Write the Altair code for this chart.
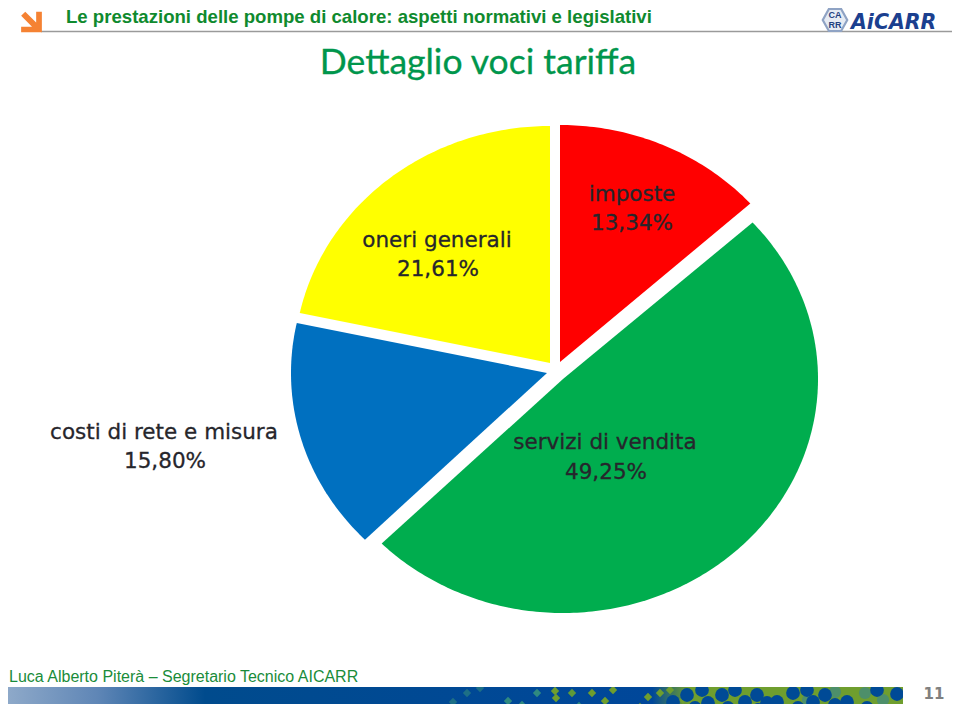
import math
import altair as alt
import pandas as pd

# ---- chart values ----
categories = ["imposte", "servizi di vendita", "costi di rete e misura", "oneri generali"]
shares = [13.34, 49.25, 15.80, 21.61]
share_labels = ["13,34%", "49,25%", "15,80%", "21,61%"]
colors = ["#ff0000", "#00ad4e", "#0070c0", "#ffff00"]

heading = "Le prestazioni delle pompe di calore: aspetti normativi e legislativi"
title = "Dettaglio voci tariffa"
footer = "Luca Alberto Piterà – Segretario Tecnico AICARR"
page_number = "11"

# Pixel frame of the picture (the page margin takes 8px on each side)
X = alt.Scale(domain=[8, 952], range=[0, 944])
Y = alt.Scale(domain=[8, 704], range=[0, 696])
ax = dict(axis=None, scale=X)
ay = dict(axis=None, scale=Y)

# exploded centre and elliptical radii of each wedge of the (stretched) pie
geometry = {"imposte": (560, 362, 256, 237), "servizi di vendita": (563, 379, 255, 234),
            "costi di rete e misura": (547, 373, 256, 237), "oneri generali": (550, 363, 256, 237)}


def wedge(start, end, cx, cy, rx, ry):
    n = max(4, int((end - start) * 1.2))
    pts = [[cx - 8, cy - 8]]
    for i in range(n + 1):
        a = math.radians(start + (end - start) * i / n)
        pts.append([cx - 8 + rx * math.sin(a), cy - 8 - ry * math.cos(a)])
    pts.append([cx - 8, cy - 8])
    return pts


features, running = [], 0.0
for cat, val in zip(categories, shares):
    sweep = val / sum(shares) * 360
    features.append({"type": "Feature",
                     "properties": {"category": cat},
                     "geometry": {"type": "Polygon",
                                  "coordinates": [wedge(running, running + sweep, *geometry[cat])]}})
    running += sweep

pie = alt.Chart(alt.InlineData(values={"type": "FeatureCollection", "features": features},
                               format=alt.DataFormat(type="json", property="features"))
                ).mark_geoshape(stroke=None).encode(
    color=alt.Color("properties.category:N", legend=None,
                    scale=alt.Scale(domain=categories, range=colors))
).project(type="identity", scale=1, translate=[0, 0])

# ---- slice labels ----
name_pos = {"imposte": (632, 195), "servizi di vendita": (605, 443),
            "costi di rete e misura": (164, 433), "oneri generali": (437, 241)}
value_pos = {"imposte": (632, 224), "servizi di vendita": (606, 473),
             "costi di rete e misura": (165, 462), "oneri generali": (438, 270)}
label_df = pd.DataFrame(
    [{"t": c, "x": name_pos[c][0], "y": name_pos[c][1]} for c in categories] +
    [{"t": l, "x": value_pos[c][0], "y": value_pos[c][1]} for c, l in zip(categories, share_labels)])
labels = alt.Chart(label_df).mark_text(font="DejaVu Sans", fontSize=21.5, stroke="#26262c",
                                       strokeWidth=0.3, color="#26262c", baseline="middle",
                                       align="center").encode(
    x=alt.X("x:Q", **ax), y=alt.Y("y:Q", **ay), text="t:N")


def txt(s, x, y, **kw):
    return alt.Chart(pd.DataFrame({"t": [s], "x": [x], "y": [y]})).mark_text(**kw).encode(
        x=alt.X("x:Q", **ax), y=alt.Y("y:Q", **ay), text="t:N")


head = txt(heading, 66, 22.5, font="Liberation Sans", fontSize=18.6, fontWeight="bold",
           color="#0f8a2e", align="left", baseline="alphabetic")
ttl = txt(title, 478, 74, font="Lato", fontSize=35.5, color="#00964c", stroke="#00964c",
          strokeWidth=0.3, align="center", baseline="alphabetic")
foot = txt(footer, 9, 682, font="Liberation Sans", fontSize=16, color="#1a8c3a",
           align="left", baseline="alphabetic")
num = txt(page_number, 934, 694, font="DejaVu Sans", fontSize=15, fontWeight="bold",
          color="#808080", align="center", baseline="middle")

# header rule
rule = alt.Chart(pd.DataFrame({"x": [41], "x2": [952], "y": [31.5]})).mark_rule(
    color="#9a9a9a", strokeWidth=1.5).encode(
    x=alt.X("x:Q", **ax), x2="x2:Q", y=alt.Y("y:Q", **ay))

# orange arrow and logo
ARROW = "M1,-1 L1,1 L-1,1 L-1,.45 L.05,.45 L-1,-.6 L-.6,-1 L.45,.05 L.45,-1 Z"
HEX = "M-1,0 L-.5,-.9 L.5,-.9 L1,0 L.5,.9 L-.5,.9 Z"


def glyph(path, x, y, size, **kw):
    return alt.Chart(pd.DataFrame({"x": [x], "y": [y]})).mark_point(
        shape=path, size=size, **kw).encode(x=alt.X("x:Q", **ax), y=alt.Y("y:Q", **ay))


arrow = glyph(ARROW, 31.5, 22, 430, filled=True, color="#f58233", opacity=1)
hexa = glyph(HEX, 835, 20, 600, filled=True, fill="#e6ebf3", stroke="#8fa3c4",
             strokeWidth=2.2, opacity=1)
ca = txt("CA", 835, 15, font="Liberation Sans", fontSize=9, fontWeight="bold",
         color="#1f3f7f", align="center", baseline="middle")
rr = txt("RR", 835, 25, font="Liberation Sans", fontSize=9, fontWeight="bold",
         color="#1f3f7f", align="center", baseline="middle")
aicarr = txt("AiCARR", 851, 29, font="DejaVu Sans", fontSize=20.5, fontWeight="bold",
             fontStyle="italic", color="#1b3f8f", align="left", baseline="alphabetic")

# footer band
band_fill = alt.Gradient(
    gradient="linear", x1=0, x2=1, y1=0, y2=0,
    stops=[alt.GradientStop(offset=0, color="#8ea9c9"),
           alt.GradientStop(offset=0.1, color="#5f86b6"),
           alt.GradientStop(offset=0.22, color="#004b8d"),
           alt.GradientStop(offset=0.72, color="#00479a"),
           alt.GradientStop(offset=0.76, color="#6f9e2e"),
           alt.GradientStop(offset=1, color="#6f9e2e")])
band = alt.Chart(pd.DataFrame({"x": [8], "x2": [903], "y": [687], "y2": [704]})).mark_rect(
    fill=band_fill).encode(x=alt.X("x:Q", **ax), x2="x2:Q", y=alt.Y("y:Q", **ay), y2="y2:Q")

fleck_x = [453, 467, 480, 502, 508, 522, 537, 555, 556, 572, 579, 592, 600, 605, 613, 640, 648, 660, 648, 672, 670, 683, 676]
fleck_y = [702, 693, 688, 708, 701, 705, 693, 691, 698, 693, 706, 693, 711, 701, 690, 707, 697, 693, 708, 705, 690, 700, 708]
fleck_c = ["#1d6f86", "#1d6f86", "#1d6f86", "#1d6f86", "#2f8a80", "#2f8a80", "#2f8a80",
           "#6f9e2e", "#6f9e2e", "#5f9a3a", "#2f8a80", "#6f9e2e", "#6f9e2e", "#6f9e2e", "#6f9e2e",
           "#6f9e2e", "#6f9e2e", "#6f9e2e", "#6f9e2e", "#6f9e2e", "#6f9e2e", "#6f9e2e", "#6f9e2e"]
flecks = alt.Chart(pd.DataFrame({"x": fleck_x, "y": fleck_y, "c": fleck_c})).mark_point(
    shape="diamond", filled=True, size=70, opacity=1).encode(
    x=alt.X("x:Q", **ax), y=alt.Y("y:Q", **ay), color=alt.Color("c:N", scale=None))

dot_x = [687, 673, 702, 695, 708, 722, 735, 728, 745, 757, 767, 777, 758, 793, 807, 798, 785, 825, 813, 847, 867, 877, 897, 835, 815, 890]
dot_y = [695, 702, 690, 708, 703, 695, 690, 708, 702, 695, 703, 702, 710, 693, 690, 708, 712, 695, 702, 702, 708, 690, 694, 705, 712, 712]
dots = alt.Chart(pd.DataFrame({"x": dot_x, "y": dot_y})).mark_circle(
    size=190, opacity=1, color="#004a96", clip=True).encode(
    x=alt.X("x:Q", **ax), y=alt.Y("y:Q", **ay))

teal_x = [835, 865, 883, 808]
teal_y = [692, 693, 700, 700]
teal = alt.Chart(pd.DataFrame({"x": teal_x, "y": teal_y})).mark_circle(
    size=150, opacity=1, color="#4d8f6a").encode(x=alt.X("x:Q", **ax), y=alt.Y("y:Q", **ay))

# white margins that keep the round dots inside the band
mask = alt.Chart(pd.DataFrame({"x": [903], "x2": [952], "y": [687], "y2": [704]})).mark_rect(
    color="white").encode(x=alt.X("x:Q", **ax), x2="x2:Q", y=alt.Y("y:Q", **ay), y2="y2:Q")
top_mask = alt.Chart(pd.DataFrame({"x": [440], "x2": [903], "y": [672], "y2": [687]})).mark_rect(
    color="white").encode(x=alt.X("x:Q", **ax), x2="x2:Q", y=alt.Y("y:Q", **ay), y2="y2:Q")

chart = alt.layer(
    rule, arrow, head, ttl, hexa, ca, rr, aicarr,
    pie, labels,
    band, flecks, teal, dots, top_mask, mask, foot, num
).resolve_scale(color="independent").properties(
    width=944, height=696, padding=0,
    autosize=alt.AutoSizeParams(type="none")
).configure_view(stroke=None)

chart.save("out.html", embed_options={"renderer": "svg", "actions": False})
